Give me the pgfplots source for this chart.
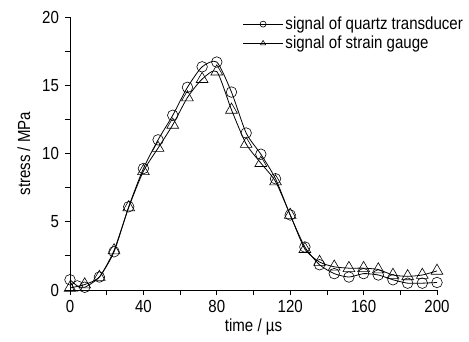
\documentclass[border=0pt]{standalone}
\usepackage{pgfplots}
\pgfplotsset{compat=1.18}
\usepackage{fontspec}
\setmainfont[FakeStretch=0.86]{Liberation Sans}
\begin{document}
\fontsize{17.5}{20}\selectfont
\begin{tikzpicture}[x=1pt,y=1pt]
\useasboundingbox (0,0) rectangle (469,341);
\begin{axis}[
  at={(70pt,51pt)}, anchor=south west,
  scale only axis, width=367pt, height=273pt,
  xmin=0, xmax=200, ymin=0, ymax=20,
  axis x line*=bottom, axis y line*=left,
  axis line style={line width=0.9pt},
  xtick={0,40,...,200}, ytick={0,5,...,20},
  minor x tick num=1, minor y tick num=1,
  tick align=outside,
  major tick length=5pt, minor tick length=5pt,
  every tick/.style={black, line width=0.8pt},
  /pgf/number format/assume math mode=true,
  ticklabel style={font=\fontsize{17.5}{20}\selectfont},
  xticklabel style={yshift=1pt},
  label style={font=\fontsize{17.5}{20}\selectfont},
  xlabel={time / µs}, ylabel={stress / MPa},
  xlabel style={yshift=5pt},
  ylabel style={yshift=0pt},
  clip=false,
  legend style={at={(0.47,1.01)}, anchor=north west, draw=none, fill=none,
    font=\fontsize{17.5}{19}\selectfont, row sep=0pt, inner sep=0pt,
    legend cell align=left},
  legend image code/.code={\draw[#1, mark size=3pt, mark repeat=2, mark phase=2] plot coordinates {(0pt,0pt) (20pt,0pt) (40pt,0pt)};},
]
\addplot[black, line width=0.8pt, smooth, tension=0.4, mark=o, mark size=5.3pt,
  mark options={fill=white, line width=0.6pt}] coordinates {
(0,0.75) (4,0.3) (8,0.2) (16,0.95) (24,2.8) (32,6.1) (40,8.9) (48,11.0) (56,12.8)
(64,14.85) (72,16.35) (80,16.7) (88,14.5) (96,11.5) (104,9.95) (112,8.15)
(120,5.5) (128,3.15) (136,1.85) (144,1.2) (152,0.95) (160,1.2) (168,1.1)
(176,0.75) (184,0.5) (192,0.5) (200,0.55)};
\addlegendentry{signal of quartz transducer}
\addplot[black, line width=0.8pt, smooth, tension=0.4, mark=triangle, mark size=6.8pt,
  mark options={fill=white, line width=0.6pt}] coordinates {
(0,0.15) (8,0.4) (16,0.95) (24,2.9) (32,6.05) (40,8.7) (48,10.4) (56,12.1)
(64,14.1) (72,15.45) (80,16.0) (88,13.2) (96,10.7) (104,9.3) (112,7.95)
(120,5.5) (128,3.0) (136,2.05) (144,1.7) (152,1.6) (160,1.6) (168,1.5)
(176,1.1) (184,1.0) (192,1.1) (200,1.4)};
\addlegendentry{signal of strain gauge}
\end{axis}
\end{tikzpicture}
\end{document}
